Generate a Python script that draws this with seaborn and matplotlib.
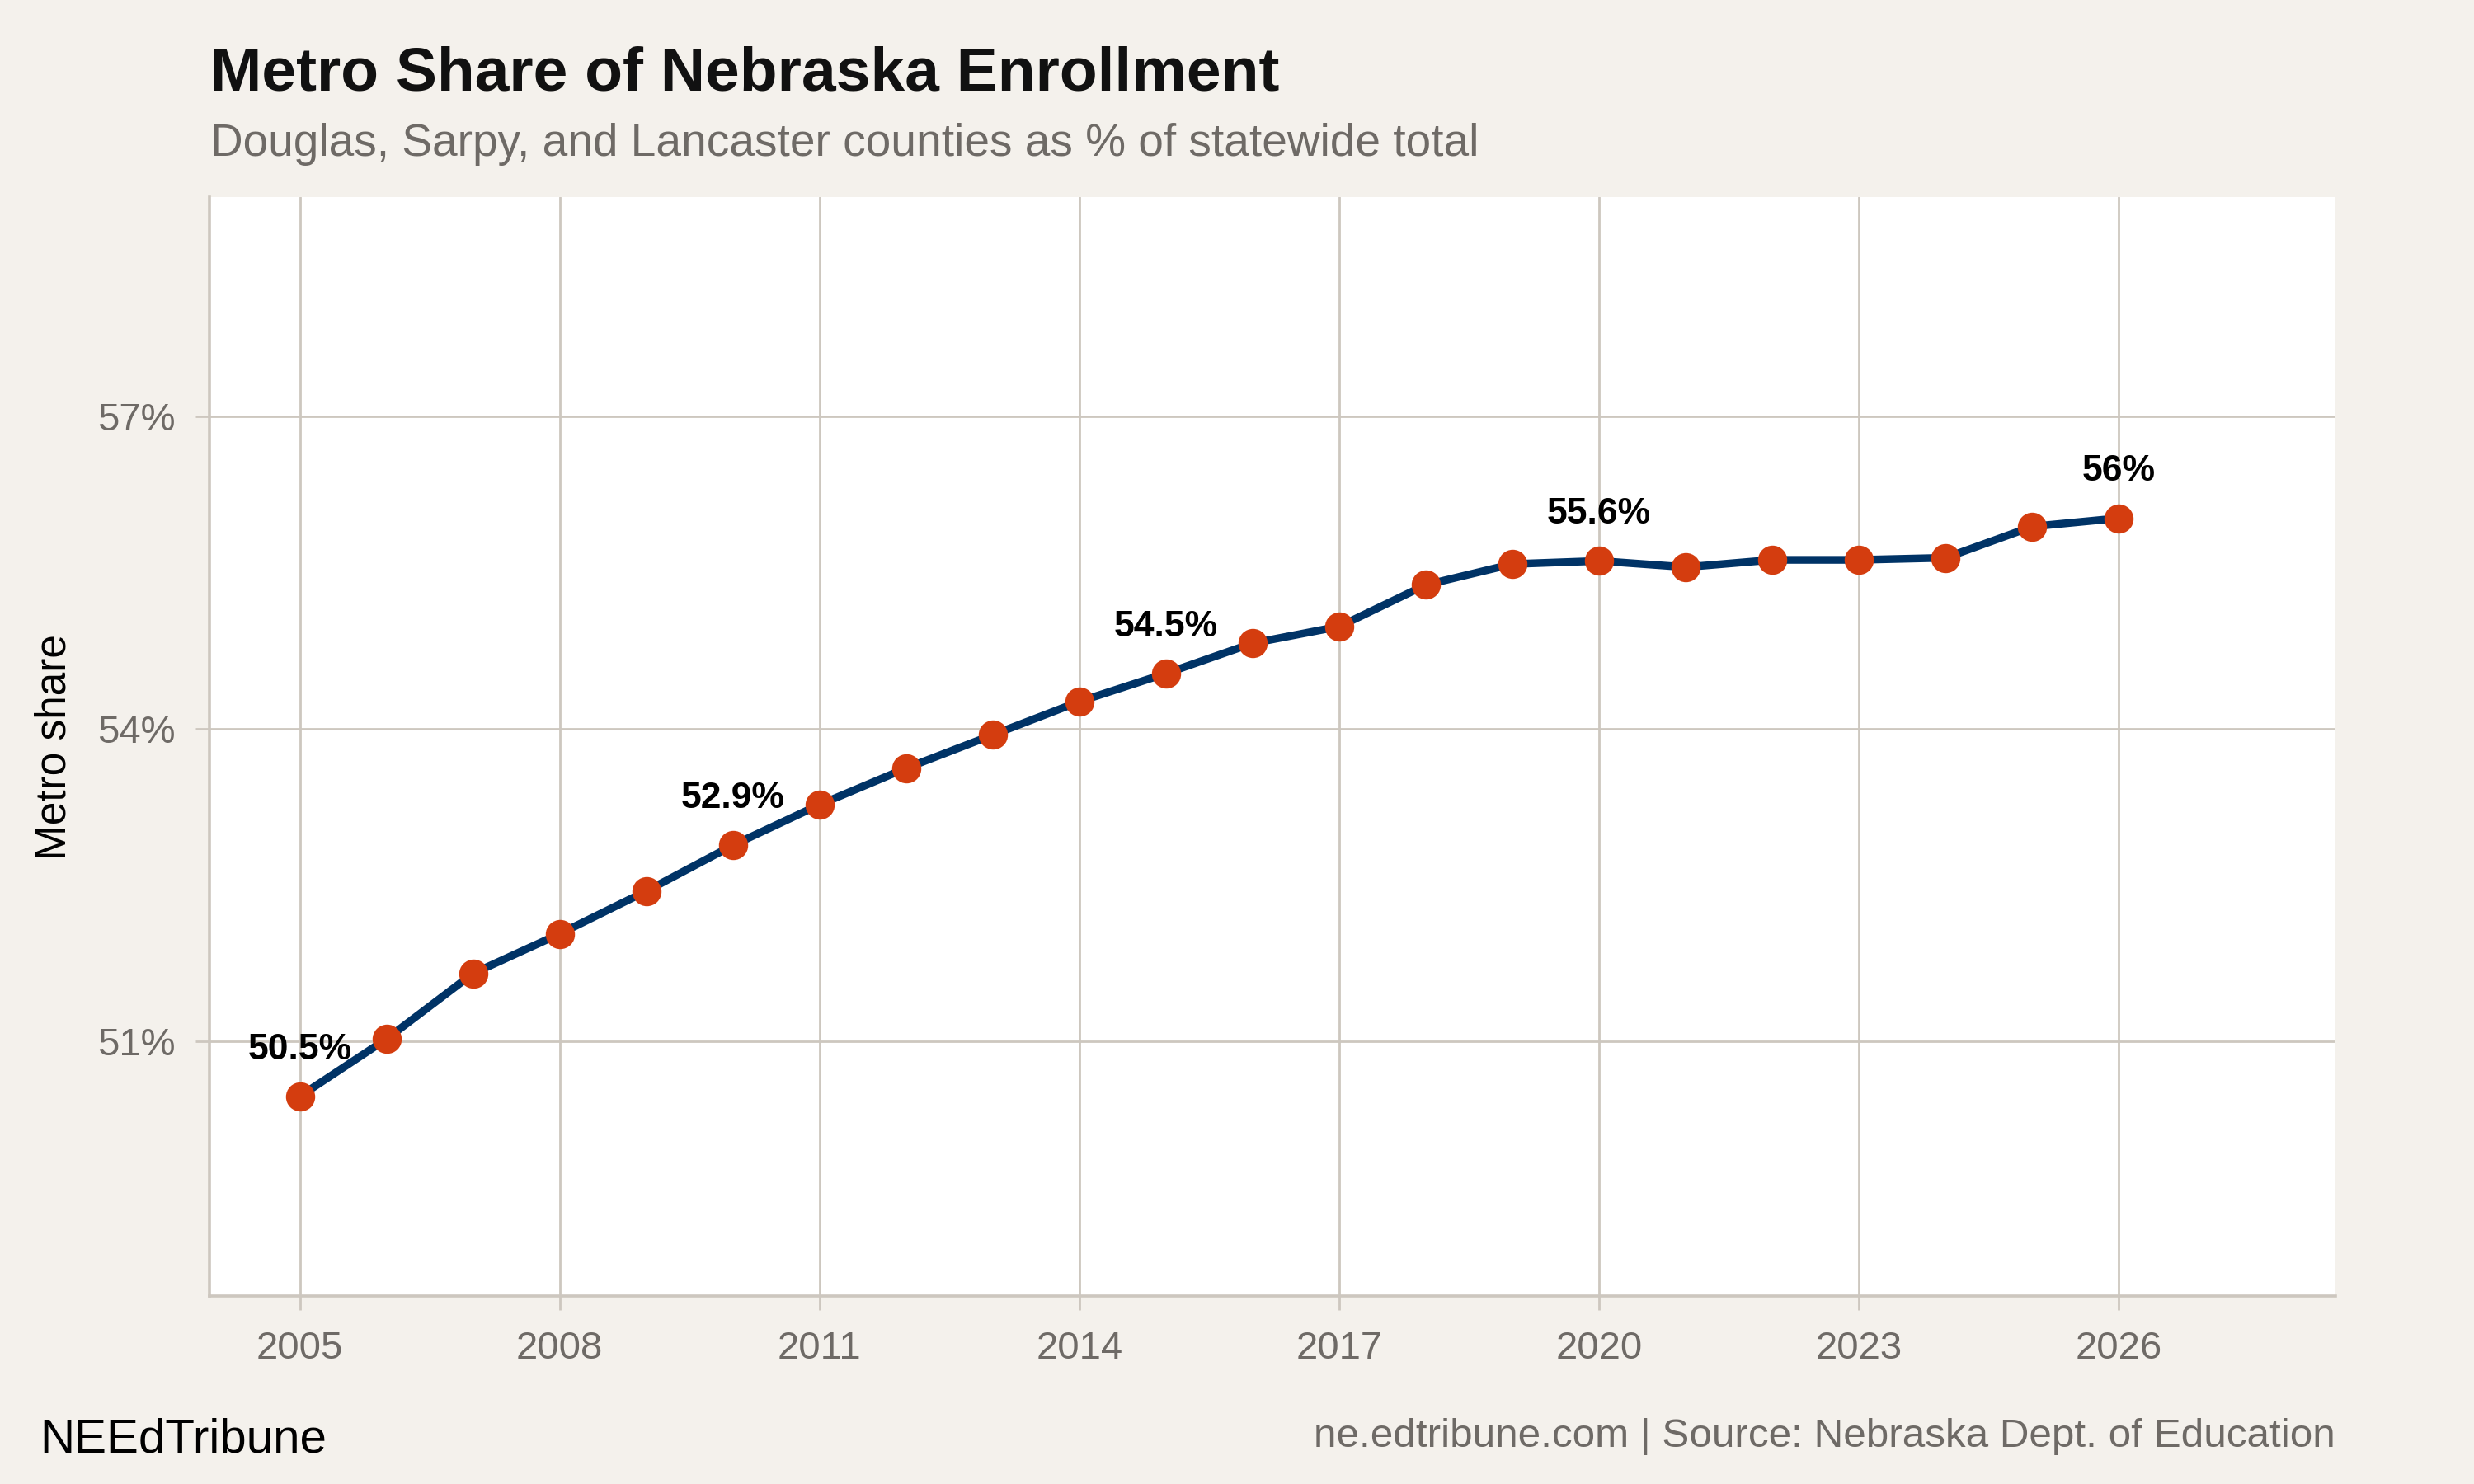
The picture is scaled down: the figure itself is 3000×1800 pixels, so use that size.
import numpy as np
import pandas as pd
import matplotlib.pyplot as plt
import seaborn as sns

# Data
years = list(range(2005, 2027))
share = [50.47, 51.02, 51.65, 52.03, 52.44, 52.88, 53.27, 53.62, 53.94, 54.26,
         54.53, 54.82, 54.98, 55.38, 55.58, 55.61, 55.55, 55.62, 55.62, 55.64,
         55.94, 56.02]
label_years = [2005, 2010, 2015, 2020, 2026]
y_ticks = [51, 54, 57]
x_ticks = [2005, 2008, 2011, 2014, 2017, 2020, 2023, 2026]

df = pd.DataFrame({'year': years, 'share': share})

bg = '#f4f1ec'
grid_col = '#cdc7bf'
gray_txt = '#6e6a66'
line_col = '#003366'
dot_col = '#d43d0f'

sns.set_theme(style='white')
plt.rcParams['font.family'] = ['Liberation Sans', 'DejaVu Sans']

fig = plt.figure(figsize=(15, 9), dpi=200, facecolor=bg)
ax = fig.add_axes([0.0848, 0.1265, 0.8592, 0.7405])
ax.set_facecolor('white')

sns.lineplot(data=df, x='year', y='share', ax=ax, color=line_col, linewidth=3.4,
             marker='o', markersize=12, markerfacecolor=dot_col,
             markeredgecolor=dot_col, zorder=3)

for yr in label_years:
    v = df.loc[df['year'] == yr, 'share'].iloc[0]
    txt = f"{round(v, 1):g}%"
    ax.annotate(txt, (yr, v), xytext=(0, 13), textcoords='offset points',
                ha='center', va='bottom', fontsize=16, fontweight='bold',
                color='black', zorder=4)

ax.set_xlim(2003.96, 2028.5)
ax.set_ylim(48.55, 59.1)
ax.set_xticks(x_ticks)
ax.set_yticks(y_ticks)
ax.set_yticklabels([f"{t}%" for t in y_ticks])
ax.grid(True, color=grid_col, linewidth=1.0)
ax.set_axisbelow(True)
ax.tick_params(axis='both', colors=grid_col, labelcolor=gray_txt, labelsize=17,
               length=6, width=1.0, pad=9, bottom=True, left=True)

for side in ['top', 'right']:
    ax.spines[side].set_visible(False)
for side in ['left', 'bottom']:
    ax.spines[side].set_color(grid_col)
    ax.spines[side].set_linewidth(1.3)

ax.set_xlabel('')
ax.set_ylabel('Metro share', fontsize=18.5, color='black', labelpad=10)

fig.text(0.085, 0.95, 'Metro Share of Nebraska Enrollment', fontsize=27,
         fontweight='bold', color='#111111', ha='left', va='center')
fig.text(0.085, 0.903, 'Douglas, Sarpy, and Lancaster counties as % of statewide total',
         fontsize=19.8, color=gray_txt, ha='left', va='center')
fig.text(0.016, 0.03, 'NEEdTribune', fontsize=21, color='black', ha='left', va='center')
fig.text(0.944, 0.032, 'ne.edtribune.com | Source: Nebraska Dept. of Education',
         fontsize=17.8, color=gray_txt, ha='right', va='center')

fig.savefig('out.png', dpi=200, facecolor=bg)
